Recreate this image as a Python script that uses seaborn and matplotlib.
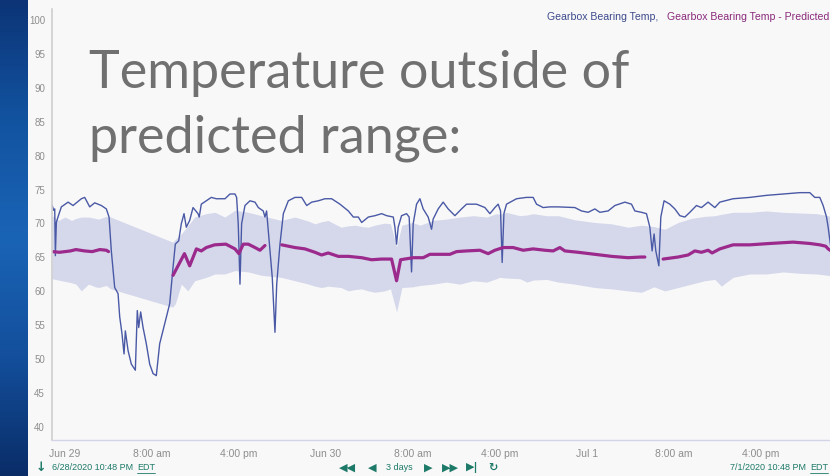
import numpy as np
import pandas as pd
import matplotlib
matplotlib.use('Agg')
import matplotlib.pyplot as plt
from matplotlib.colors import LinearSegmentedColormap
import seaborn as sns

# x values are hours since Jun 29 00:00 (window 6/28 22:48 -> 7/1 22:48)
temp_h = [-1.2, -1.05, -0.95, -0.89, -0.8, -0.65, -0.34, 0.28, 0.74, 1.5, 1.81, 2.27, 2.73, 3.34, 3.8,
          4.05, 4.26, 4.57, 4.88, 5.03, 5.24, 5.43, 5.55, 5.8, 6.1, 6.47, 6.65, 6.78, 6.96, 7.18,
          7.48, 7.79, 8.1, 8.4, 8.71, 9.01, 9.32, 9.63, 9.94, 10.15, 10.46, 10.7, 10.95, 11.16, 11.47,
          11.78, 12.24, 12.35, 12.54, 13.0, 13.46, 13.92, 14.72, 15.18, 15.64, 15.79, 15.94, 16.1, 16.25,
          16.56, 17.02, 17.48, 17.79, 18.24, 18.4, 18.55, 18.86, 19.07, 19.32, 19.48, 19.78, 20.09, 20.55,
          21.16, 21.78, 22.24, 22.7, 23.31, 23.92, 24.54, 25.3, 26.07, 26.53, 26.99, 27.3, 27.91, 28.52,
          29.14, 29.6, 30.21, 30.36, 30.51, 30.66, 30.97, 31.43, 31.67, 31.89, 32.04, 32.35, 32.66, 32.96,
          33.42, 33.73, 33.88, 34.34, 34.8, 35.26, 35.88, 36.49, 36.95, 37.87, 38.64, 39.1, 39.56, 39.86,
          40.08, 40.23, 40.39, 40.63, 41.55, 42.47, 43.08, 43.39, 44.0, 44.62, 45.38, 46.92, 47.53, 48.14,
          48.76, 49.22, 49.98, 50.6, 51.52, 52.13, 52.44, 53.05, 53.51, 53.82, 54.03, 54.21, 54.37, 54.65,
          54.83, 55.13, 55.66, 56.12, 56.58, 57.04, 57.5, 58.11, 58.57, 59.18, 59.8, 60.26, 61.48, 63.02,
          64.55, 66.08, 67.62, 68.54, 69.0, 69.46, 69.77, 70.08, 70.23, 70.5]
temp_v = [72.6, 71.8, 72.0, 65.1, 70.0, 70.8, 72.3, 73.0, 72.5, 73.5, 73.7, 72.3, 72.9, 72.5, 72.0,
          70.8, 65.8, 60.4, 59.5, 56.1, 53.6, 50.6, 54.0, 51.1, 49.1, 48.2, 57.0, 54.5, 56.8, 54.5,
          52.1, 49.1, 47.7, 47.4, 52.1, 54.0, 56.0, 58.0, 63.4, 66.8, 67.3, 69.8, 71.3, 69.3, 70.3,
          72.2, 71.3, 70.8, 72.7, 73.2, 73.7, 73.5, 73.5, 74.2, 74.2, 73.7, 69.8, 60.9, 69.8,
          72.5, 73.2, 73.0, 72.2, 71.7, 70.8, 71.7, 65.8, 61.9, 53.8, 60.9, 66.8, 71.3, 73.2,
          73.7, 73.7, 72.5, 73.0, 73.2, 73.5, 73.5, 72.7, 71.7, 70.8, 70.8, 70.0, 70.8, 71.0,
          71.3, 71.0, 70.8, 69.3, 66.8, 69.3, 71.0, 71.3, 70.8, 62.7, 69.8, 72.7, 73.5, 72.0,
          70.8, 69.0, 70.5, 72.0, 73.0, 72.0, 71.0, 72.0, 72.7, 72.7, 72.2, 71.3, 72.2, 72.7,
          71.7, 64.1, 71.3, 72.7, 73.5, 73.7, 73.7, 72.7, 72.2, 72.3, 72.3, 72.2, 71.7, 71.5,
          72.0, 71.5, 71.7, 72.5, 73.0, 72.7, 71.7, 71.5, 71.3, 69.3, 65.8, 68.3, 65.8, 63.6,
          70.8, 73.2, 72.7, 72.0, 71.0, 70.8, 71.5, 72.5, 72.2, 73.0, 72.2, 73.0, 73.5, 73.7,
          74.0, 74.2, 74.4, 74.4, 73.7, 73.7, 72.5, 70.8, 69.3, 66.0]

# predicted line, four pieces with gaps between them
pred1_h = [-1.2, -0.5, 0.5, 1.0, 1.8, 2.5, 3.2, 3.8, 4.0]
pred1_v = [65.7, 65.6, 65.8, 66.0, 65.8, 65.7, 66.0, 65.9, 65.7]
pred2_h = [9.94, 10.99, 11.47, 12.09, 12.54, 13.0, 13.77, 14.8, 15.64, 16.0, 16.4, 16.86, 17.48, 17.94, 18.4]
pred2_v = [62.2, 65.4, 63.6, 66.1, 65.8, 66.3, 66.7, 66.8, 66.1, 65.4, 66.8, 66.8, 66.3, 65.9, 66.6]
pred3_h = [19.94, 21.16, 22.08, 23.0, 23.61, 24.22, 25.14, 26.07, 27.3, 28.21, 29.14, 30.05, 30.51, 30.88,
           32.04, 32.96, 33.58, 34.5, 35.42, 36.03, 36.95, 38.18, 38.94, 39.56, 40.32, 41.24, 42.16, 43.08,
           44.16, 44.92, 45.54, 46.0, 47.22, 48.76, 50.29, 51.82, 53.0, 53.36]
pred3_v = [66.7, 66.3, 66.1, 65.6, 65.2, 65.5, 65.0, 65.0, 64.8, 64.5, 64.6, 64.6, 61.4, 64.5,
           64.8, 64.8, 65.3, 65.3, 65.3, 65.7, 65.8, 65.9, 65.4, 65.9, 66.3, 66.3, 65.9, 66.1,
           65.9, 65.8, 66.3, 65.8, 65.6, 65.3, 65.0, 64.8, 64.9, 64.9]
pred4_h = [55.04, 56.42, 57.34, 57.96, 58.57, 59.18, 59.55, 60.26, 61.48, 63.02, 64.86, 67.0, 68.54, 69.46,
           70.0, 70.23, 70.5]
pred4_v = [64.6, 64.9, 65.2, 65.8, 65.6, 65.9, 65.5, 66.1, 66.7, 66.7, 66.9, 67.1, 66.9, 66.7,
           66.5, 66.1, 65.8]

# predicted range (shaded band)
band_h = [-1.2, -0.6, 0.0, 0.6, 1.0, 1.5, 2.15, 2.8, 3.1, 3.8, 4.2, 9.9, 10.15, 10.7, 11.3, 11.93,
          13.0, 13.8, 14.7, 15.64, 16.86, 18.1, 19.9, 21.16, 22.4, 23.0, 23.6, 24.2, 25.4, 26.07, 26.7,
          27.3, 27.9, 28.5, 29.4, 29.95, 30.51, 31.0, 32.0, 32.66, 33.88, 35.1, 36.34, 37.56, 38.8,
          39.7, 40.0, 40.6, 41.86, 42.5, 43.08, 44.3, 45.4, 46.9, 48.76, 50.3, 51.82, 53.05, 54.2,
          55.2, 56.42, 57.65, 58.88, 59.8, 60.4, 61.48, 63.0, 64.55, 66.1, 67.6, 69.15, 70.23, 70.5]
band_lo = [61.7, 61.5, 61.3, 61.1, 60.9, 59.9, 60.9, 60.5, 60.4, 60.7, 60.2, 57.5, 58.0, 60.9, 59.9, 61.4,
           61.9, 62.4, 62.4, 62.9, 62.7, 62.2, 61.9, 61.4, 60.9, 60.6, 60.4, 60.6, 60.4, 59.9, 60.1,
           60.2, 59.9, 59.7, 59.9, 60.2, 56.8, 60.4, 60.5, 60.7, 60.9, 61.2, 60.9, 61.4, 61.2,
           61.7, 61.9, 61.8, 61.7, 61.2, 61.5, 61.6, 61.2, 60.9, 60.4, 60.2, 59.9, 59.7, 60.5,
           59.9, 60.4, 60.9, 61.4, 61.6, 60.6, 61.9, 62.4, 62.4, 62.7, 62.5, 62.4, 62.2, 62.0]
band_hi = [71.0, 70.3, 70.8, 70.3, 70.6, 70.8, 70.8, 70.6, 70.5, 70.9, 70.8, 67.1, 67.5, 68.3, 69.5, 70.8,
           71.3, 71.5, 70.8, 71.8, 71.5, 71.0, 70.3, 70.8, 70.2, 69.8, 70.1, 70.3, 69.3, 69.5, 69.6,
           69.4, 69.3, 69.6, 69.9, 69.8, 66.4, 69.6, 70.0, 69.6, 70.3, 70.5, 70.8, 71.0, 70.8,
           71.3, 71.2, 71.5, 71.0, 71.1, 71.3, 71.0, 71.0, 70.4, 70.0, 69.8, 69.3, 69.6, 69.4,
           69.0, 70.0, 70.6, 70.9, 71.0, 71.2, 71.5, 71.5, 71.7, 71.5, 71.4, 71.3, 71.0, 70.8]

tick_h = [0, 8, 16, 24, 32, 40, 48, 56, 64]
tick_labels = ['Jun 29', '8:00 am', '4:00 pm', 'Jun 30', '8:00 am', '4:00 pm', 'Jul 1', '8:00 am', '4:00 pm']
y_ticks = list(range(40, 101, 5))

BLUE = '#4a59a6'
PURPLE = '#9b2a8c'
BAND = '#d5d8eb'
BG = '#f8f8f8'
GREY = '#8e8e8e'
TEAL = '#1d7a68'

sns.set_style('white')
plt.rcParams['font.family'] = ['Liberation Sans', 'DejaVu Sans']

fig = plt.figure(figsize=(8.3, 4.77), dpi=100, facecolor=BG)

# blue slide background on the left
strip = fig.add_axes([0, 0, 27 / 830, 1])
cmap = LinearSegmentedColormap.from_list('slide', ['#0c3477', '#1253a0', '#1a64b6', '#134f9c', '#0a2d68'])
strip.imshow(np.linspace(0, 1, 200).reshape(-1, 1), aspect='auto', cmap=cmap)
strip.axis('off')

ax = fig.add_axes([52 / 830, 36 / 477, 778 / 830, 431 / 477])
ax.set_facecolor(BG)

ax.fill_between(band_h, band_lo, band_hi, color=BAND, lw=0)
sns.lineplot(x=temp_h, y=temp_v, estimator=None, sort=False, color=BLUE, lw=1.0, ax=ax)

pred_df = pd.concat([
    pd.DataFrame({'h': pred1_h, 'v': pred1_v, 'seg': 1}),
    pd.DataFrame({'h': pred2_h, 'v': pred2_v, 'seg': 2}),
    pd.DataFrame({'h': pred3_h, 'v': pred3_v, 'seg': 3}),
    pd.DataFrame({'h': pred4_h, 'v': pred4_v, 'seg': 4}),
], ignore_index=True)
sns.lineplot(data=pred_df, x='h', y='v', units='seg', estimator=None, color=PURPLE, lw=2.3, ax=ax)

ax.set_xlim(-1.2, 70.4)
ax.set_ylim(37.9, 101.5)
ax.set_xticks(tick_h)
ax.set_xticklabels(tick_labels)
ax.set_yticks(y_ticks)
ax.set_xlabel('')
ax.set_ylabel('')
ax.tick_params(axis='x', length=4, color='#d3d3ea', labelsize=7.5, labelcolor=GREY, pad=2)
ax.tick_params(axis='y', length=0, labelsize=7, labelcolor=GREY, pad=5)
for s in ['top', 'right']:
    ax.spines[s].set_visible(False)
ax.spines['left'].set_color('#cfcfcf')
ax.spines['left'].set_linewidth(1.2)
ax.spines['bottom'].set_color('#d3d3ea')
ax.spines['bottom'].set_linewidth(1.0)

# legend text top right
fig.text(658 / 830, 1 - 17 / 477, 'Gearbox Bearing Temp,', color='#3d4a8c', fontsize=7.6, va='center', ha='right')
fig.text(829 / 830, 1 - 17 / 477, 'Gearbox Bearing Temp - Predicted', color='#8a2a7c', fontsize=7.6, va='center', ha='right')

# slide overlay title
title_kw = dict(color='#707070', fontsize=37.5, family=['Lato', 'DejaVu Sans'], va='baseline')
fig.text(89 / 830, 1 - 88 / 477, 'Temperature outside of', **title_kw)
fig.text(89 / 830, 1 - 153 / 477, 'predicted range:', **title_kw)

# bottom navigation bar
nav_y = 1 - 468 / 477
fig.text(36 / 830, nav_y, '\u2193', color=TEAL, fontsize=9, family='DejaVu Sans', va='center', fontweight='bold')
fig.text(52 / 830, nav_y, '6/28/2020 10:48 PM', color=TEAL, fontsize=6.5, va='center')
fig.text(137 / 830, nav_y, 'EDT', color=TEAL, fontsize=6.5, va='center')
fig.text(347 / 830, nav_y, '\u25c0\u25c0', color=TEAL, fontsize=8, family='DejaVu Sans', va='center', ha='center')
fig.text(372 / 830, nav_y, '\u25c0', color=TEAL, fontsize=8, family='DejaVu Sans', va='center', ha='center')
fig.text(399 / 830, nav_y, '3 days', color=TEAL, fontsize=6.5, va='center', ha='center')
fig.text(428 / 830, nav_y, '\u25b6', color=TEAL, fontsize=8, family='DejaVu Sans', va='center', ha='center')
fig.text(450 / 830, nav_y, '\u25b6\u25b6', color=TEAL, fontsize=8, family='DejaVu Sans', va='center', ha='center')
fig.text(472 / 830, nav_y, '\u25b6|', color=TEAL, fontsize=8, family='DejaVu Sans', va='center', ha='center', fontweight='bold')
fig.text(493 / 830, nav_y, '\u21bb', color=TEAL, fontsize=8, family='DejaVu Sans', va='center', ha='center', fontweight='bold')
fig.text(730 / 830, nav_y, '7/1/2020 10:48 PM', color=TEAL, fontsize=6.5, va='center')
fig.text(810 / 830, nav_y, 'EDT', color=TEAL, fontsize=6.5, va='center')
# underline under the EDT links
fig.add_artist(plt.Line2D([137 / 830, 155 / 830], [1 - 474 / 477] * 2, color=TEAL, lw=0.6))
fig.add_artist(plt.Line2D([810 / 830, 828 / 830], [1 - 474 / 477] * 2, color=TEAL, lw=0.6))

fig.savefig('out.png', dpi=100, facecolor=BG)
